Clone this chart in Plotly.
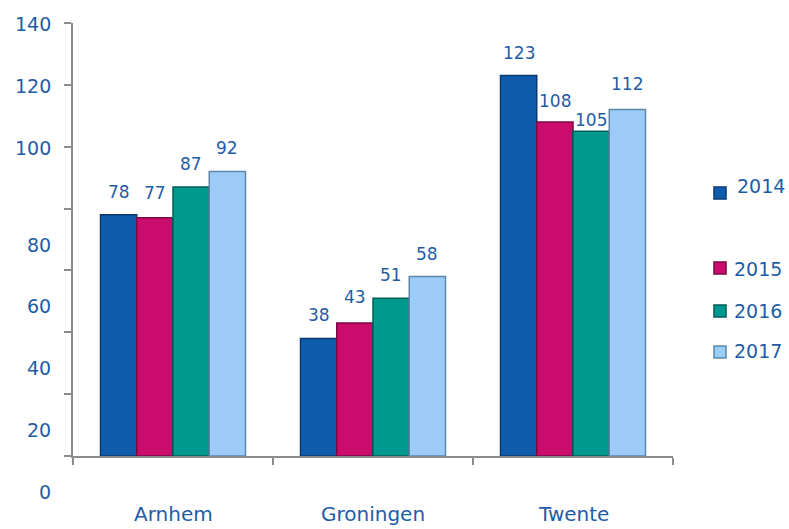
import plotly.graph_objects as go

# ---- data ----
categories = ["Arnhem", "Groningen", "Twente"]
years = ["2014", "2015", "2016", "2017"]
v2014 = [78, 38, 123]
v2015 = [77, 43, 108]
v2016 = [87, 51, 105]
v2017 = [92, 58, 112]
series = [v2014, v2015, v2016, v2017]
ytick_values = [0, 20, 40, 60, 80, 100, 120, 140]

# ---- style ----
colors = ["#105CAC", "#CC0C6C", "#00998F", "#9BCBF6"]
edges = ["#0A3A70", "#7A0842", "#005E58", "#5E86A8"]
txt = "#1F5CA6"
font = "DejaVu Sans"
W, H = 789, 529
L, R, T, B = 73, 673, 23, 456
bargap = 0.275


def px_x(px):
    return (px - L) / (R - L)


def px_y(py):
    return (B - py) / (B - T)


fig = go.Figure()
for yr, vals, c, e in zip(years, series, colors, edges):
    fig.add_trace(go.Bar(
        x=categories, y=vals, name=yr, marker=dict(color=c, line=dict(color=e, width=1.5)),
        showlegend=False, hoverinfo="x+y+name"))

annotations = []
# data labels
nser = len(series)
bw = (1 - bargap) / nser
special_shift = {(1, 2): 21, (2, 2): 11, (3, 2): 26, (1, 0): 25, (1, 1): 26}
for si, vals in enumerate(series):
    for ci, v in enumerate(vals):
        xo = ci + (si - (nser - 1) / 2) * bw
        annotations.append(dict(
            x=xo, y=v, xref="x", yref="y", text=str(v), showarrow=False,
            yanchor="middle", xanchor="center", yshift=special_shift.get((si, ci), 23),
            font=dict(family=font, size=17, color=txt)))

# category labels
for c in categories:
    annotations.append(dict(
        x=c, y=0, xref="x", yref="paper", text=c, showarrow=False,
        yanchor="middle", xanchor="center", yshift=-58,
        font=dict(family=font, size=20, color=txt)))

# y tick labels (original chart has labels below 100 shifted downward)
for tv in ytick_values:
    annotations.append(dict(
        x=px_x(53), y=tv, xref="paper", yref="y", text=str(tv), showarrow=False,
        xanchor="right", yanchor="middle", yshift=(0 if tv >= 100 else -35) - 1,
        font=dict(family=font, size=19, color=txt)))

# custom legend
leg_sq_y = [193, 268, 311, 352]
leg_tx_x = [735, 732, 732, 732]
leg_tx_y = [186, 269, 311, 351]
shapes = []
for yr, c, e, sy, tx, ty in zip(years, colors, edges, leg_sq_y, leg_tx_x, leg_tx_y):
    shapes.append(dict(type="rect", xref="paper", yref="paper",
                       x0=px_x(714), x1=px_x(726), y0=px_y(sy + 6), y1=px_y(sy - 6),
                       fillcolor=c, line=dict(color=e, width=1.5)))
    annotations.append(dict(
        x=px_x(tx), y=px_y(ty), xref="paper", yref="paper", text=yr, showarrow=False,
        xanchor="left", yanchor="middle",
        font=dict(family=font, size=19, color=txt)))

fig.update_layout(
    width=W, height=H,
    margin=dict(l=L, r=W - R, t=T, b=H - B, pad=0),
    paper_bgcolor="white", plot_bgcolor="white",
    barmode="group", bargap=bargap, bargroupgap=0,
    annotations=annotations, shapes=shapes,
    xaxis=dict(type="category", showticklabels=False, showgrid=False,
               showline=True, linecolor="#8C8C8C", linewidth=1.5,
               ticks="outside", tickson="boundaries", ticklen=7, tickcolor="#8C8C8C",
               tickwidth=1.5, range=[-0.5, 2.5], zeroline=False),
    yaxis=dict(range=[0, 140], tickvals=ytick_values, showticklabels=False,
               showgrid=False, showline=True, linecolor="#8C8C8C", linewidth=1.5,
               ticks="outside", ticklen=7, tickcolor="#8C8C8C", tickwidth=1.5,
               zeroline=False),
    showlegend=False,
)

fig.write_html("out.html")
